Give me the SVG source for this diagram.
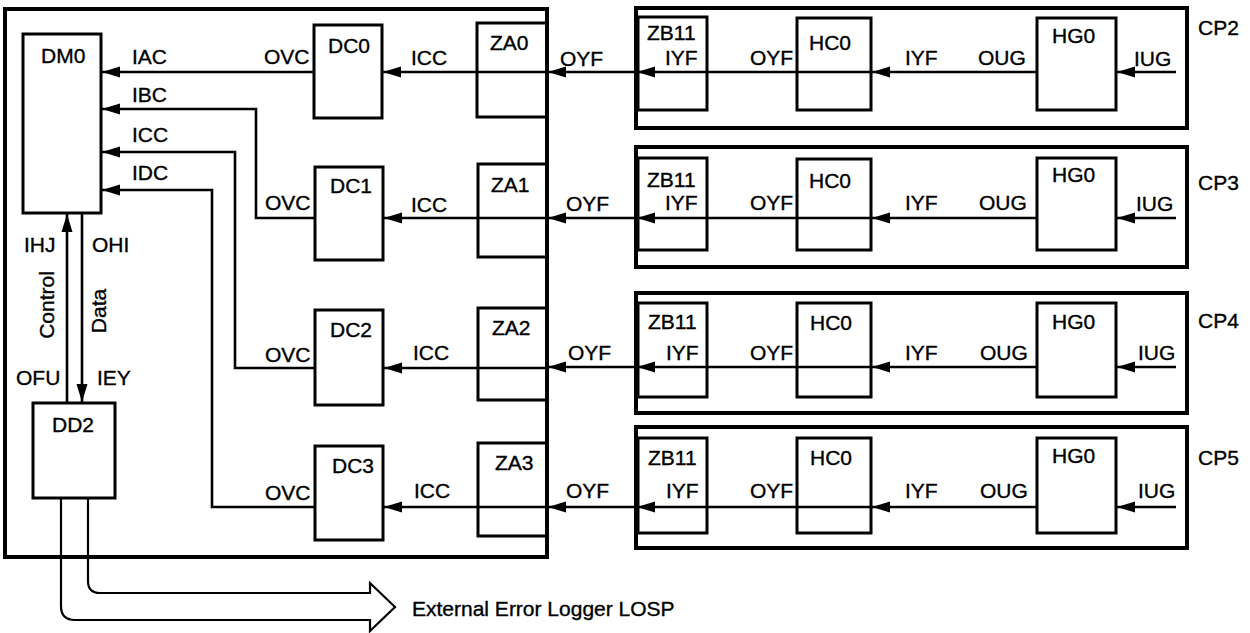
<svg xmlns="http://www.w3.org/2000/svg" width="1250" height="633" viewBox="0 0 1250 633">
<defs>
<style>
.t{font-family:"Liberation Sans",Arial,Helvetica,sans-serif;font-size:21px;fill:#000;stroke:#000;stroke-width:0.35}
.box{fill:none;stroke:#000;stroke-width:3}
.outer{fill:none;stroke:#000;stroke-width:4}
.ln{fill:none;stroke:#000;stroke-width:2.6}
.arr{fill:none;stroke:#000;stroke-width:2.6;marker-end:url(#ah)}
.hollow{fill:none;stroke:#000;stroke-width:2.2;stroke-linejoin:miter}
</style>
<marker id="ah" markerUnits="userSpaceOnUse" markerWidth="18" markerHeight="12" viewBox="0 -6 18 12" refX="18" refY="0" orient="auto">
<path d="M0,-5.5 L18,0 L0,5.5 z" fill="#000"/>
</marker>
</defs>
<rect width="1250" height="633" fill="#fff"/>

<g id="system">
<rect class="outer" x="5" y="9" width="542" height="548"/>
</g>

<g id="DM0"><rect class="box" x="23" y="34" width="78" height="179"/><text class="t" x="41" y="63">DM0</text></g>
<g id="DD2"><rect class="box" x="33" y="403" width="82" height="95"/><text class="t" x="52" y="432">DD2</text></g>

<g id="DC0"><rect class="box" x="314" y="25" width="68" height="93"/><text class="t" x="328" y="53">DC0</text></g>
<g id="DC1"><rect class="box" x="315" y="167" width="68" height="93"/><text class="t" x="330" y="193">DC1</text></g>
<g id="DC2"><rect class="box" x="315" y="310" width="68" height="95"/><text class="t" x="330" y="337">DC2</text></g>
<g id="DC3"><rect class="box" x="315" y="446" width="68" height="94"/><text class="t" x="332" y="473">DC3</text></g>

<g id="ZA0"><rect class="box" x="477" y="23" width="70" height="94"/><text class="t" x="490" y="50">ZA0</text></g>
<g id="ZA1"><rect class="box" x="478" y="164" width="69" height="93"/><text class="t" x="491" y="192">ZA1</text></g>
<g id="ZA2"><rect class="box" x="478" y="308" width="69" height="92"/><text class="t" x="492" y="335">ZA2</text></g>
<g id="ZA3"><rect class="box" x="478" y="443" width="69" height="93"/><text class="t" x="495" y="470">ZA3</text></g>

<g id="CP2">
<rect class="outer" x="636" y="8" width="551" height="120"/>
<text class="t" x="1198" y="35">CP2</text>
<g id="CP2-ZB11"><rect class="box" x="638" y="17" width="69" height="93"/><text class="t" x="647" y="40">ZB11</text></g>
<g id="CP2-HC0"><rect class="box" x="797" y="18" width="74" height="92"/><text class="t" x="809" y="50">HC0</text></g>
<g id="CP2-HG0"><rect class="box" x="1037" y="18" width="79" height="92"/><text class="t" x="1052" y="43">HG0</text></g>
</g>
<g id="CP3">
<rect class="outer" x="636" y="147" width="551" height="120"/>
<text class="t" x="1198" y="190">CP3</text>
<g id="CP3-ZB11"><rect class="box" x="638" y="158" width="69" height="92"/><text class="t" x="647" y="187">ZB11</text></g>
<g id="CP3-HC0"><rect class="box" x="797" y="159" width="74" height="91"/><text class="t" x="809" y="188">HC0</text></g>
<g id="CP3-HG0"><rect class="box" x="1037" y="158" width="79" height="92"/><text class="t" x="1052" y="182">HG0</text></g>
</g>
<g id="CP4">
<rect class="outer" x="636" y="293" width="551" height="120"/>
<text class="t" x="1198" y="328">CP4</text>
<g id="CP4-ZB11"><rect class="box" x="638" y="303" width="69" height="94"/><text class="t" x="648" y="329">ZB11</text></g>
<g id="CP4-HC0"><rect class="box" x="797" y="303" width="74" height="94"/><text class="t" x="810" y="330">HC0</text></g>
<g id="CP4-HG0"><rect class="box" x="1037" y="303" width="79" height="94"/><text class="t" x="1052" y="329">HG0</text></g>
</g>
<g id="CP5">
<rect class="outer" x="636" y="427" width="551" height="121"/>
<text class="t" x="1198" y="465">CP5</text>
<g id="CP5-ZB11"><rect class="box" x="638" y="438" width="69" height="95"/><text class="t" x="648" y="465">ZB11</text></g>
<g id="CP5-HC0"><rect class="box" x="797" y="438" width="74" height="95"/><text class="t" x="810" y="465">HC0</text></g>
<g id="CP5-HG0"><rect class="box" x="1037" y="438" width="79" height="95"/><text class="t" x="1052" y="463">HG0</text></g>
</g>

<g id="connectors">
<path class="arr" d="M314,72 H102"/>
<path class="arr" d="M315,218 H256 V109 H102"/>
<path class="arr" d="M315,368 H235 V152 H102"/>
<path class="arr" d="M315,507 H212 V190 H102"/>
<path class="arr" d="M547,72 H383"/>
<path class="arr" d="M547,218 H384"/>
<path class="arr" d="M547,368 H384"/>
<path class="arr" d="M547,507 H384"/>
<path class="arr" d="M636,72 H548"/>
<path class="arr" d="M636,218 H548"/>
<path class="arr" d="M636,367 H548"/>
<path class="arr" d="M636,507 H548"/>
<path class="arr" d="M871,72 H637"/>
<path class="arr" d="M871,218 H637"/>
<path class="arr" d="M871,367 H637"/>
<path class="arr" d="M871,507 H637"/>
<path class="arr" d="M1037,72 H872"/>
<path class="arr" d="M1037,218 H872"/>
<path class="arr" d="M1037,367 H872"/>
<path class="arr" d="M1037,507 H872"/>
<path class="arr" d="M1176,72 H1117"/>
<path class="arr" d="M1176,218 H1117"/>
<path class="arr" d="M1176,367 H1117"/>
<path class="arr" d="M1176,507 H1117"/>
<path class="arr" d="M67,402 V214"/>
<path class="arr" d="M82,214 V402"/>
<path class="hollow" d="M61,498 V606 Q61,620 75,620 H370 V631 L395,607 L370,583 V593 H100 Q88,593 88,581 V498"/>
</g>

<g id="labels">
<text class="t" x="132" y="64">IAC</text>
<text class="t" x="132" y="102">IBC</text>
<text class="t" x="132" y="142">ICC</text>
<text class="t" x="132" y="180">IDC</text>
<text class="t" x="264" y="64">OVC</text>
<text class="t" x="265" y="210">OVC</text>
<text class="t" x="265" y="362">OVC</text>
<text class="t" x="265" y="500">OVC</text>
<text class="t" x="411" y="65">ICC</text>
<text class="t" x="411" y="212">ICC</text>
<text class="t" x="413" y="360">ICC</text>
<text class="t" x="414" y="498">ICC</text>
<text class="t" x="560" y="66">OYF</text>
<text class="t" x="566" y="211">OYF</text>
<text class="t" x="568" y="360">OYF</text>
<text class="t" x="566" y="498">OYF</text>

<text class="t" x="665" y="65">IYF</text>
<text class="t" x="750" y="65">OYF</text>
<text class="t" x="905" y="65">IYF</text>
<text class="t" x="978" y="65">OUG</text>
<text class="t" x="1134" y="66">IUG</text>

<text class="t" x="665" y="210">IYF</text>
<text class="t" x="750" y="210">OYF</text>
<text class="t" x="905" y="210">IYF</text>
<text class="t" x="979" y="210">OUG</text>
<text class="t" x="1136" y="211">IUG</text>

<text class="t" x="666" y="360">IYF</text>
<text class="t" x="750" y="360">OYF</text>
<text class="t" x="905" y="360">IYF</text>
<text class="t" x="980" y="360">OUG</text>
<text class="t" x="1138" y="360">IUG</text>

<text class="t" x="666" y="498">IYF</text>
<text class="t" x="750" y="498">OYF</text>
<text class="t" x="905" y="498">IYF</text>
<text class="t" x="980" y="498">OUG</text>
<text class="t" x="1138" y="498">IUG</text>

<text class="t" x="24" y="252">IHJ</text>
<text class="t" x="92" y="252">OHI</text>
<text class="t" x="16" y="385">OFU</text>
<text class="t" x="97" y="385">IEY</text>
<text class="t" text-anchor="middle" transform="translate(54,305) rotate(-90)">Control</text>
<text class="t" text-anchor="middle" transform="translate(106,311) rotate(-90)">Data</text>
<text class="t" x="412" y="616">External Error Logger LOSP</text>
</g>
</svg>
